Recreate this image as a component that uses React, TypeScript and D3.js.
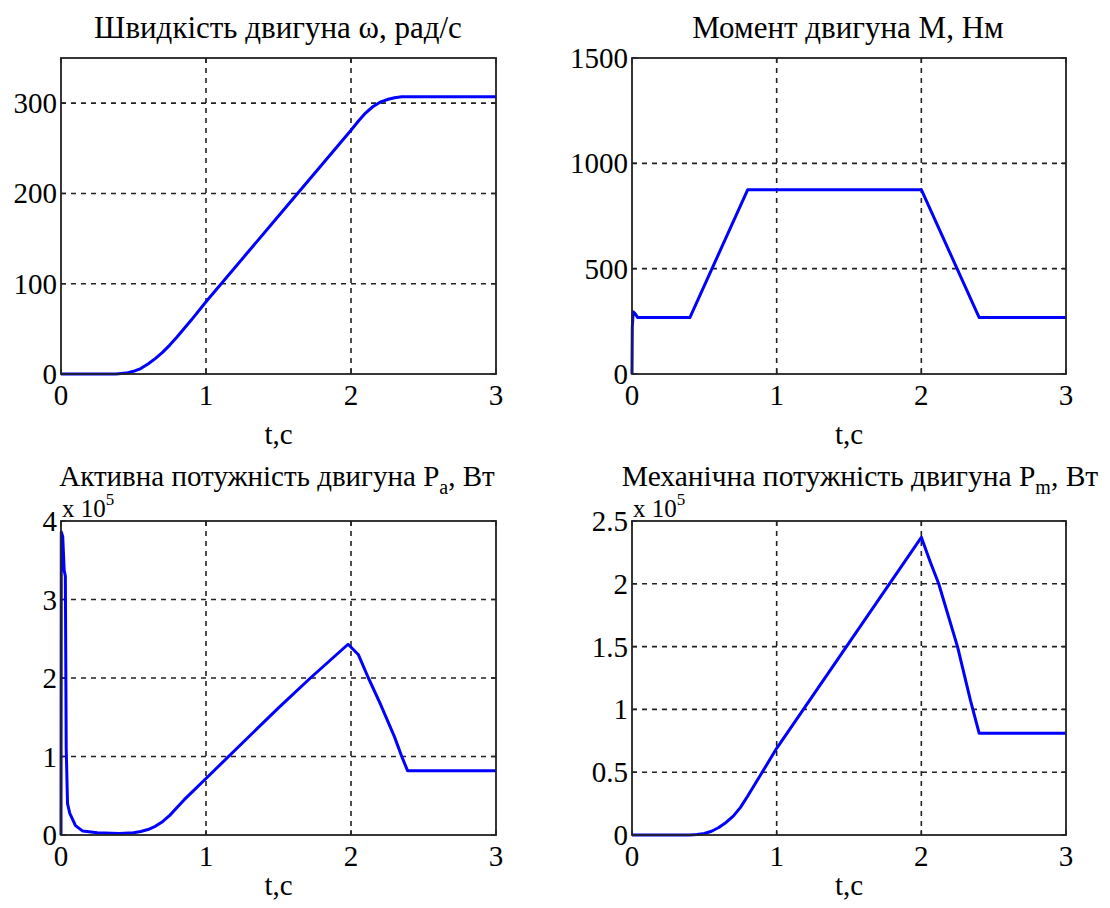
import React from 'react';
import * as d3 from 'd3';

// ---------- data ----------
const xTicks = [0, 1, 2, 3];

const omegaTime = [0, 0.38, 0.45, 0.5, 0.55, 0.6, 0.65, 0.7, 0.75, 0.8, 0.9, 1.0, 1.5, 2.0, 2.05, 2.1, 2.15, 2.2, 2.25, 2.3, 2.35, 3.0];
const omegaValues = [0, 0, 1, 3, 6, 11, 17, 24, 32, 41, 60, 80, 175, 270, 280, 289, 296, 301, 304, 306, 307, 307];
const omegaTicks = [0, 100, 200, 300];

const torqueTime = [0, 0.002, 0.008, 0.02, 0.04, 0.4, 0.8, 2.0, 2.4, 3.0];
const torqueValues = [0, 220, 295, 288, 268, 268, 875, 875, 268, 268];
const torqueTicks = [0, 500, 1000, 1500];

const activeTime = [0, 0.002, 0.012, 0.022, 0.03, 0.036, 0.045, 0.06, 0.08, 0.1, 0.15, 0.25, 0.4, 0.5, 0.55, 0.6, 0.65, 0.7, 0.75, 0.8, 0.85, 0.9, 1.0, 1.5, 1.72, 1.98, 2.05, 2.12, 2.2, 2.3, 2.35, 2.39, 3.0];
const activeValues = [0, 3.86, 3.8, 3.37, 3.3, 1.1, 0.4, 0.28, 0.2, 0.12, 0.05, 0.03, 0.02, 0.03, 0.045, 0.07, 0.11, 0.17, 0.25, 0.35, 0.45, 0.54, 0.72, 1.62, 2.0, 2.43, 2.3, 2.0, 1.68, 1.25, 1.0, 0.82, 0.82];
const activeTicks = [0, 1, 2, 3, 4];

const mechTime = [0, 0.4, 0.45, 0.5, 0.55, 0.6, 0.65, 0.7, 0.75, 0.8, 0.9, 1.0, 1.5, 2.0, 2.06, 2.12, 2.25, 2.34, 2.4, 3.0];
const mechValues = [0, 0, 0.004, 0.012, 0.03, 0.06, 0.1, 0.15, 0.22, 0.31, 0.5, 0.69, 1.53, 2.37, 2.18, 2.0, 1.5, 1.07, 0.81, 0.81];
const mechTicks = [0, 0.5, 1, 1.5, 2, 2.5];

const FONT = "'Liberation Serif', 'DejaVu Serif', 'Noto Serif', serif";
const txt = { fontFamily: FONT } as React.CSSProperties;

type PanelProps = {
  left: number; top: number; width: number; height: number;
  yMax: number; yTicks: number[];
  time: number[]; values: number[];
  title: React.ReactNode; titleX: number; titleY: number; titleSize: number;
  xLabelOffset: number;
  exponent?: boolean;
};

function Panel(p: PanelProps) {
  const x = d3.scaleLinear().domain([0, 3]).range([p.left, p.left + p.width]);
  const y = d3.scaleLinear().domain([0, p.yMax]).range([p.top + p.height, p.top]);
  const pts: [number, number][] = p.time.map((t, i) => [t, p.values[i]]);
  const line = d3.line<[number, number]>().x(d => x(d[0])).y(d => y(d[1]));
  const bottom = p.top + p.height;
  const right = p.left + p.width;
  const tl = 5;
  return (
    <g>
      {xTicks.filter(t => t > 0 && t < 3).map(t => (
        <line key={'gx' + t} x1={x(t)} x2={x(t)} y1={p.top} y2={bottom} stroke="#222" strokeWidth={1.6} strokeDasharray="5,5" />
      ))}
      {p.yTicks.filter(t => t > 0 && t < p.yMax).map(t => (
        <line key={'gy' + t} x1={p.left} x2={right} y1={y(t)} y2={y(t)} stroke="#222" strokeWidth={1.6} strokeDasharray="5,5" />
      ))}
      {xTicks.map(t => (
        <g key={'tx' + t}>
          <line x1={x(t)} x2={x(t)} y1={bottom} y2={bottom - tl} stroke="#222" strokeWidth={1.4} />
          <line x1={x(t)} x2={x(t)} y1={p.top} y2={p.top + tl} stroke="#222" strokeWidth={1.4} />
          <text x={x(t)} y={bottom + 31} textAnchor="middle" fontSize={29} style={txt}>{t}</text>
        </g>
      ))}
      {p.yTicks.map(t => (
        <g key={'ty' + t}>
          <line x1={p.left} x2={p.left + tl} y1={y(t)} y2={y(t)} stroke="#222" strokeWidth={1.4} />
          <line x1={right} x2={right - tl} y1={y(t)} y2={y(t)} stroke="#222" strokeWidth={1.4} />
          <text x={p.left - 4} y={y(t) + 10} textAnchor="end" fontSize={29} style={txt}>{String(t)}</text>
        </g>
      ))}
      <path d={line(pts) || ''} fill="none" stroke="#0000ff" strokeWidth={3} strokeLinejoin="round" />
      <rect x={p.left} y={p.top} width={p.width} height={p.height} fill="none" stroke="#222" strokeWidth={1.8} />
      <text x={p.left + p.width / 2} y={bottom + p.xLabelOffset} textAnchor="middle" fontSize={29} style={txt}>t,c</text>
      <text x={p.titleX} y={p.titleY} textAnchor="middle" fontSize={p.titleSize} style={txt}>{p.title}</text>
      {p.exponent && (
        <text x={p.left + 1} y={p.top - 4} fontSize={25} style={txt}>
          x 10<tspan fontSize={17} dy={-12}>5</tspan>
        </text>
      )}
    </g>
  );
}

export default function App() {
  return (
    <svg width={1110} height={908} style={{ position: 'absolute', left: 0, top: 0, background: '#fff' }}>
      <rect x={0} y={0} width={1110} height={908} fill="#fff" />
      <Panel left={61} top={58} width={435} height={316} yMax={350} yTicks={omegaTicks}
        time={omegaTime} values={omegaValues} titleX={278} titleY={38} titleSize={31} xLabelOffset={70}
        title={<>Швидкість двигуна ω, рад/с</>} />
      <Panel left={632} top={58} width={434} height={316} yMax={1500} yTicks={torqueTicks}
        time={torqueTime} values={torqueValues} titleX={848} titleY={38} titleSize={31} xLabelOffset={70}
        title={<>Момент двигуна М, Нм</>} />
      <Panel left={61} top={521} width={435} height={314} yMax={4} yTicks={activeTicks}
        time={activeTime} values={activeValues} titleX={277} titleY={486} titleSize={29} xLabelOffset={60} exponent
        title={<>Активна потужність двигуна P<tspan fontSize={20} dy={8}>a</tspan><tspan dy={-8}>, Вт</tspan></>} />
      <Panel left={632} top={521} width={434} height={314} yMax={2.5} yTicks={mechTicks}
        time={mechTime} values={mechValues} titleX={860} titleY={486} titleSize={29.5} xLabelOffset={60} exponent
        title={<>Механічна потужність двигуна P<tspan fontSize={20} dy={8}>m</tspan><tspan dy={-8}>, Вт</tspan></>} />
    </svg>
  );
}
